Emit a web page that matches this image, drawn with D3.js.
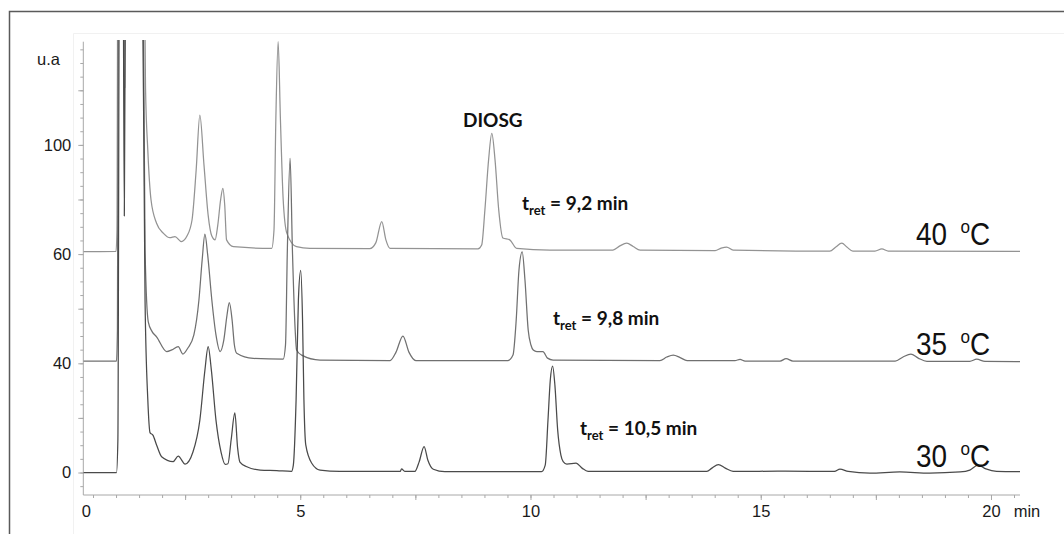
<!DOCTYPE html>
<html><head><meta charset="utf-8">
<script src="https://cdn.jsdelivr.net/npm/d3@7"></script>
<style>body{margin:0;background:#fff}</style>
</head><body><svg id="c" width="1064" height="534"></svg>
<script>
// ---------- data ----------
const xTickLabels = [0, 5, 10, 15, 20];
const yTickValues = [0, 40, 80, 120];
const yTickLabels = ["0", "40", "60", "100"];
const seriesNames = ["30", "35", "40"];
const baselineOffsets = [0, 40.7, 81];
const retentionLabels = ["10,5", "9,8", "9,2"];

const trace30 = [[0.29,0],[1.01,0],[1.04,12],[1.075,200],[1.15,200],[1.18,94],[1.21,200],[1.55,220],[1.63,63],[1.69,26.6],[1.74,14.5],[1.80,13.7],[1.88,10.1],[1.99,5.8],[2.24,4.0],[2.35,6.0],[2.50,3.1],[2.67,7.5],[2.82,19.2],[2.93,37.5],[3.00,46.1],[3.07,37.5],[3.17,19.2],[3.28,7.5],[3.37,3.0],[3.43,3.2],[3.50,12],[3.58,21.8],[3.64,9],[3.69,3.8],[3.84,2.1],[4.13,0.9],[4.49,0.7],[4.81,0.4],[4.85,2.7],[4.91,26.6],[4.96,63.2],[5.01,74],[5.05,55.9],[5.08,26.6],[5.12,10.1],[5.25,3.4],[5.43,0.9],[5.86,0.4],[7.17,0.4],[7.20,1.3],[7.27,0.4],[7.49,0.4],[7.58,3.8],[7.69,9.5],[7.77,4.6],[7.89,1.2],[8.14,0.3],[10.24,0.3],[10.32,2.7],[10.38,19.2],[10.43,33.9],[10.48,39],[10.53,32],[10.59,15.6],[10.66,6.4],[10.71,4.0],[10.79,3.1],[10.99,3.4],[11.12,1.6],[11.25,0.4],[13.83,0.4],[13.94,1.6],[14.08,2.9],[14.23,1.6],[14.40,0.4],[15.53,0.5],[16.6,0.4],[16.72,1.2],[16.9,0.4],[17.37,-0.2],[18.02,0.2],[18.67,-0.2],[19.33,0.2],[19.54,0.9],[19.72,2.7],[19.89,1.3],[20.12,0.4],[20.63,0.3]];

const trace35 = [[0.29,0.1],[1.01,0.1],[1.03,11.5],[1.06,200],[1.55,220],[1.63,40.8],[1.70,14.5],[1.78,11],[1.88,9.0],[2.10,3.6],[2.21,4.2],[2.35,5.4],[2.45,2.7],[2.56,4.9],[2.69,9.7],[2.80,22.5],[2.87,37.1],[2.93,46.6],[2.99,39],[3.08,22.5],[3.17,9.7],[3.26,3.6],[3.34,7.8],[3.41,17],[3.46,21.5],[3.52,15.2],[3.57,6.0],[3.62,3.0],[3.98,1.1],[4.63,0.8],[4.68,6.0],[4.72,40.8],[4.78,74.4],[4.83,40.8],[4.89,11.5],[4.92,4.2],[5.03,2.3],[5.43,0.5],[6.95,0.3],[7.08,3.4],[7.23,9.3],[7.36,3.4],[7.51,0.3],[9.51,0.3],[9.62,2.3],[9.69,15.2],[9.75,33.5],[9.82,40.1],[9.88,29.8],[9.95,11.5],[10.01,6],[10.06,4.2],[10.14,3.6],[10.27,3.6],[10.37,1.2],[10.49,0.5],[12.81,0.3],[12.96,1.6],[13.10,2.3],[13.25,1.4],[13.40,0.3],[14.44,0.3],[14.55,0.7],[14.66,0.1],[15.42,0.1],[15.55,1.0],[15.70,0.1],[17.92,0.1],[18.09,1.6],[18.26,2.7],[18.42,1.2],[18.61,0],[19.54,0],[19.69,0.8],[19.87,0],[20.63,-0.1]];

const trace40 = [[0.29,-0.1],[1.00,0],[1.02,7.8],[1.05,200],[1.16,200],[1.19,60],[1.22,200],[1.55,220],[1.64,60],[1.69,37],[1.76,18.8],[1.88,10.3],[2.03,6.6],[2.17,5.0],[2.28,5.4],[2.42,3.6],[2.54,5.6],[2.65,11.5],[2.74,29.8],[2.82,49.9],[2.91,31.6],[3.00,13.3],[3.08,5.6],[3.15,4.2],[3.21,9.7],[3.27,18.8],[3.32,23.1],[3.36,17],[3.40,4.2],[3.55,1.7],[4.38,1.1],[4.43,7.8],[4.47,48.1],[4.52,76.8],[4.57,48.1],[4.63,18.8],[4.71,6.6],[4.92,1.7],[5.21,1.1],[6.51,1.0],[6.64,3.1],[6.77,10.9],[6.86,4.2],[6.95,1.1],[8.86,0.9],[8.94,2.3],[9.01,15.2],[9.09,33.5],[9.16,43.2],[9.23,33.5],[9.31,15.2],[9.40,4.9],[9.55,4.2],[9.70,1.1],[10.42,0.5],[11.79,0.5],[11.94,2.0],[12.09,3.0],[12.23,1.8],[12.38,0.5],[14.01,0.3],[14.14,1.2],[14.26,1.6],[14.40,0.5],[16.50,0.1],[16.63,1.6],[16.76,3.0],[16.87,1.6],[17.0,0.1],[17.48,0.1],[17.63,0.9],[17.77,0.1],[20.63,0]];

const traces = [trace30, trace35, trace40];

// ---------- layout ----------
const svg = d3.select("#c");
const X0 = 83.3, X1 = 1020, Y0 = 495, Y1 = 41.7;
const x = d3.scaleLinear().domain([0.289, 20.63]).range([X0, X1]).clamp(true);
const y = d3.scaleLinear().domain([-8.24, 157.8]).range([Y0, Y1]);
const colors = ["#4a4a4a", "#707070", "#939393"];
const axisColor = "#a8a8a8";
const labelFont = "'Liberation Sans', Arial, sans-serif";
const boldFont = "Lato, 'Open Sans', sans-serif";

// outer frame
svg.append("path").attr("d", "M9.5,534 V11.5 H1064").attr("fill", "none")
  .attr("stroke", "#5a5a5a").attr("stroke-width", 1.5);
// faint plot frame
svg.append("path").attr("d", "M73.5,534 V33.5 H1064").attr("fill", "none")
  .attr("stroke", "#f1f1f1").attr("stroke-width", 1);

// ---------- axes ----------
const yMinor = d3.range(-5, 156, 5);
const yMajor = d3.range(0, 141, 20);
const gy1 = svg.append("g").attr("transform", `translate(${X0},0)`)
  .call(d3.axisLeft(y).tickValues(yMinor).tickSize(3).tickFormat(""));
const gy2 = svg.append("g").attr("transform", `translate(${X0},0)`)
  .call(d3.axisLeft(y).tickValues(yMajor).tickSize(5).tickFormat(""));
const gy3 = svg.append("g").attr("transform", `translate(${X0},0)`)
  .call(d3.axisLeft(y).tickValues(yTickValues).tickSize(0).tickPadding(12)
    .tickFormat((d, i) => yTickLabels[i]));
[gy1, gy2, gy3].forEach(g => {
  g.select(".domain").attr("stroke", axisColor).attr("d", `M0,${Y0}V${Y1}`);
  g.selectAll("line").attr("stroke", axisColor);
  g.selectAll("text").attr("font-family", labelFont).attr("font-size", 16.5).attr("fill", "#1a1a1a");
});
gy2.select(".domain").remove(); gy3.select(".domain").remove();

const xMinor = d3.range(0.5, 20.6, 0.5);
const xMajor = d3.range(2.5, 20.1, 2.5);
const gx1 = svg.append("g").attr("transform", `translate(0,${Y0})`)
  .call(d3.axisBottom(x).tickValues(xMinor).tickSize(3).tickFormat(""));
const gx2 = svg.append("g").attr("transform", `translate(0,${Y0})`)
  .call(d3.axisBottom(x).tickValues(xMajor).tickSize(5).tickFormat(""));
const gx3 = svg.append("g").attr("transform", `translate(0,${Y0})`)
  .call(d3.axisBottom(x).tickValues(xTickLabels).tickSize(0).tickPadding(10)
    .tickFormat(d => d));
[gx1, gx2, gx3].forEach(g => {
  g.select(".domain").attr("stroke", axisColor).attr("d", `M${X0},0H${X1}`);
  g.selectAll("line").attr("stroke", axisColor);
  g.selectAll("text").attr("font-family", labelFont).attr("font-size", 16.5).attr("fill", "#1a1a1a");
});
gx2.select(".domain").remove(); gx3.select(".domain").remove();
gx3.selectAll(".tick").filter(d => d === 0).attr("transform", `translate(${X0 + 3},0)`);

svg.append("text").attr("x", 1027).attr("y", 517).attr("text-anchor", "middle")
  .attr("font-family", labelFont).attr("font-size", 16.5).attr("fill", "#1a1a1a").text("min");
svg.append("text").attr("x", 37).attr("y", 65)
  .attr("font-family", labelFont).attr("font-size", 16.5).attr("fill", "#1a1a1a").text("u.a");

// ---------- traces ----------
svg.append("clipPath").attr("id", "clip").append("rect")
  .attr("x", X0).attr("y", 40).attr("width", X1 - X0).attr("height", Y0 - 40);
const line = d3.line().curve(d3.curveMonotoneX);
const plot = svg.append("g").attr("clip-path", "url(#clip)");
[2, 1, 0].forEach(i => {
  plot.append("path")
    .attr("d", line.x(d => x(d[0])).y(d => y(d[1] + baselineOffsets[i]))(traces[i]))
    .attr("fill", "none").attr("stroke", colors[i]).attr("stroke-width", 1.25)
    .attr("stroke-linejoin", "round");
});

// ---------- temperature labels ----------
seriesNames.forEach((name, i) => {
  const base = y(baselineOffsets[i]) - 6;
  const t = svg.append("text")
    .attr("transform", `translate(916,${base}) scale(0.9,1)`)
    .attr("font-family", labelFont).attr("font-size", 31).attr("fill", "#111");
  t.append("tspan").text(name);
  t.append("tspan").attr("dx", 15).attr("dy", -12).attr("font-size", 19).text("o");
  t.append("tspan").attr("dy", 12).text("C");
});

// ---------- annotations ----------
svg.append("text").attr("x", 463).attr("y", 127)
  .attr("font-family", boldFont).attr("font-weight", "bold").attr("font-size", 19)
  .attr("fill", "#111").text("DIOSG");
const retPos = [[580, 435], [553, 325], [522, 210]];
retentionLabels.forEach((r, i) => {
  const t = svg.append("text").attr("x", retPos[i][0]).attr("y", retPos[i][1])
    .attr("font-family", boldFont).attr("font-weight", "bold").attr("font-size", 19).attr("fill", "#111");
  t.append("tspan").text("t");
  t.append("tspan").attr("font-size", 13).attr("dy", 5).text("ret");
  t.append("tspan").attr("dy", -5).text(` = ${r} min`);
});
</script></body></html>
